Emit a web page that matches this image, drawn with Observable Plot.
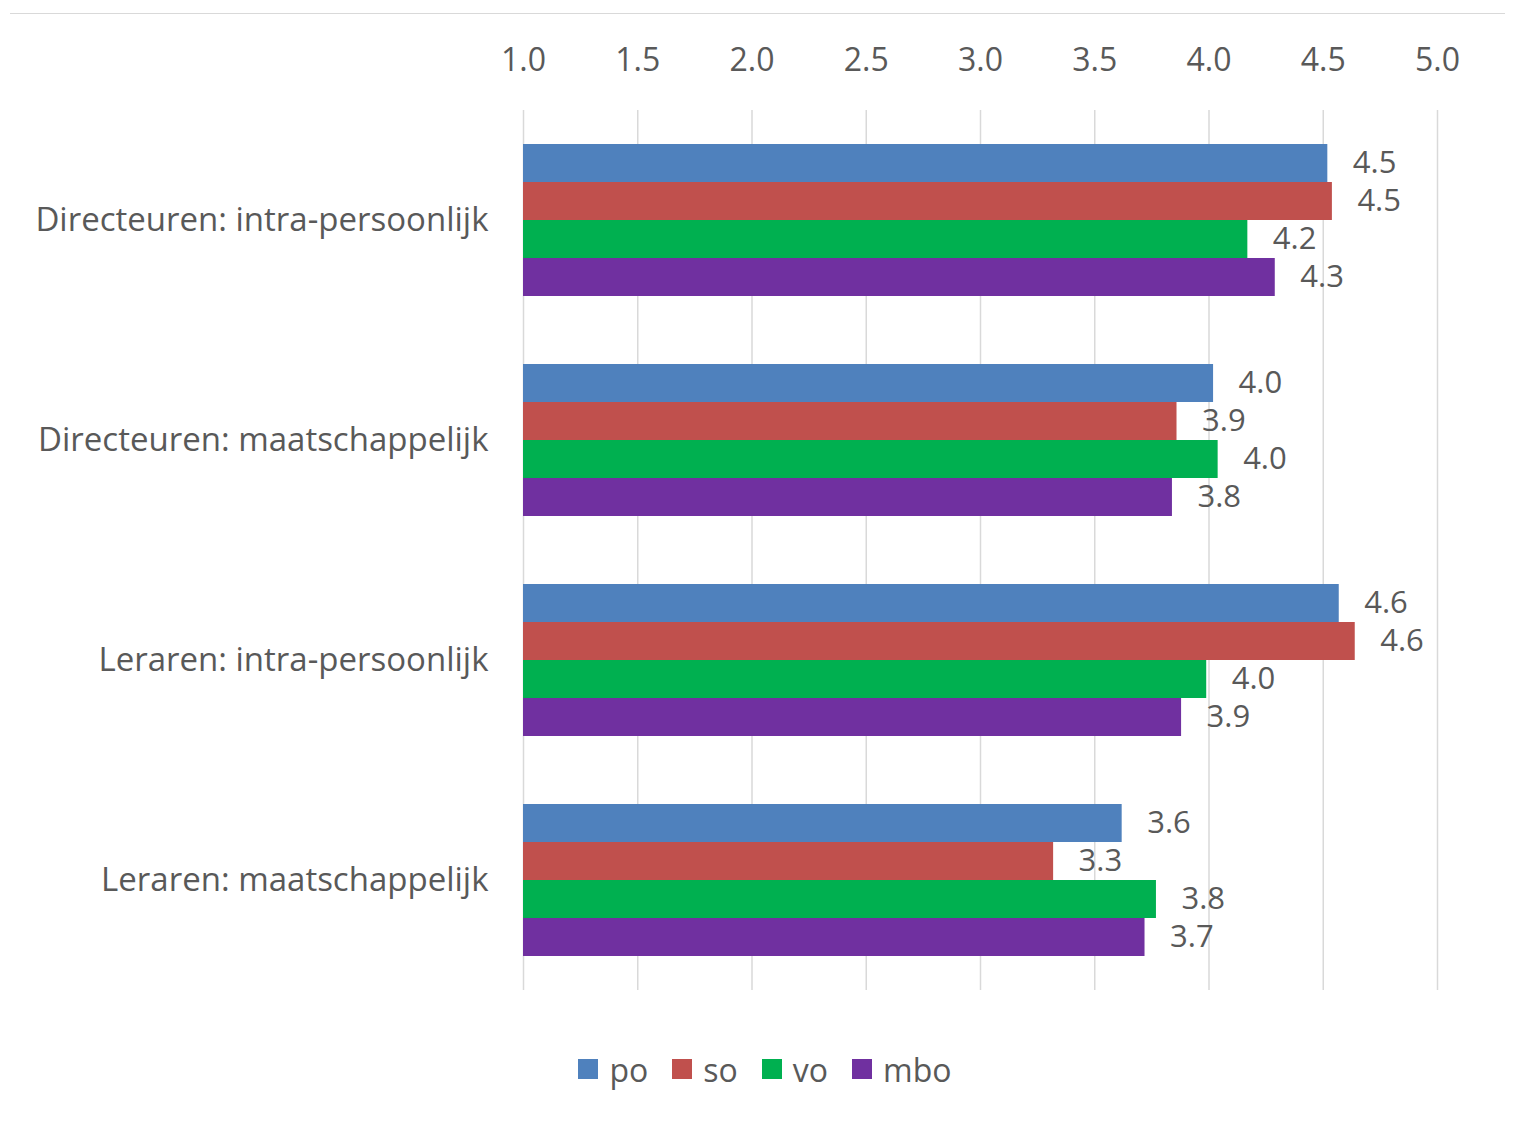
<!DOCTYPE html>
<html>
<head>
<meta charset="utf-8">
<script src="https://cdn.jsdelivr.net/npm/d3@7"></script>
<script src="https://cdn.jsdelivr.net/npm/@observablehq/plot@0.6"></script>
<style>
  body { margin: 0; background: #fff; font-family: "Open Sans", sans-serif; }
  #wrap { position: relative; width: 1517px; height: 1143px; overflow: hidden; }
  #topline { position: absolute; left: 10px; top: 13px; width: 1495px; border-top: 1.5px solid #d9d9d9; }
  #chart { position: absolute; left: 0; top: 0; }
  #chart g[aria-label="fy-axis tick label"] text { font-size: 33px; }
  #legend { position: absolute; left: 0; top: 1048px; width: 1530px; display: flex; justify-content: center; align-items: center; height: 42px; font-size: 32px; color: #595959; }
  .item { display: flex; align-items: center; margin: 0 12px; }
  .sw { width: 20px; height: 20px; margin-right: 11px; }
</style>
</head>
<body>
<div id="wrap">
  <div id="topline"></div>
  <div id="chart"></div>
  <div id="legend"></div>
</div>
<script>
const categories = [
  "Directeuren: intra-persoonlijk",
  "Directeuren: maatschappelijk",
  "Leraren: intra-persoonlijk",
  "Leraren: maatschappelijk"
];
const series = ["po", "so", "vo", "mbo"];
const colors = ["#4F81BD", "#C0504D", "#00B050", "#7030A0"];
const po  = [4.52, 4.02, 4.57, 3.62];
const so  = [4.54, 3.86, 4.64, 3.32];
const vo  = [4.17, 4.04, 3.99, 3.77];
const mbo = [4.29, 3.84, 3.88, 3.72];
const xTicks = [1.0, 1.5, 2.0, 2.5, 3.0, 3.5, 4.0, 4.5, 5.0];

const seriesValues = {po, so, vo, mbo};
const data = [];
categories.forEach((c, i) => {
  series.forEach(s => data.push({category: c, series: s, value: seriesValues[s][i]}));
});

const textColor = "#595959";
const chart = Plot.plot({
  width: 1517,
  height: 1050,
  marginTop: 110,
  marginBottom: 60,
  marginLeft: 523,
  marginRight: 80,
  style: {fontFamily: "'Open Sans', sans-serif", fontSize: "32px", color: textColor, background: "transparent"},
  x: {domain: [xTicks[0], xTicks[xTicks.length - 1]], axis: "top", ticks: xTicks, tickFormat: d3.format(".1f"), tickSize: 0, tickPadding: 40, label: null},
  y: {domain: series, axis: null, paddingInner: 0, paddingOuter: 0.895, round: false},
  fy: {domain: categories, axis: "left", padding: 0, tickSize: 0, tickPadding: 35, label: null},
  color: {domain: series, range: colors},
  marks: [
    Plot.ruleX(xTicks, {stroke: "#d9d9d9", strokeWidth: 1.5}),
    Plot.barX(data, {fy: "category", y: "series", x1: xTicks[0], x2: "value", fill: "series"}),
    Plot.text(data, {fy: "category", y: "series", x: "value", text: d => d.value.toFixed(1), dx: 25, textAnchor: "start", fill: textColor, fontSize: 31})
  ]
});
document.getElementById("chart").appendChild(chart);

const legend = document.getElementById("legend");
series.forEach((s, i) => {
  const item = document.createElement("div");
  item.className = "item";
  const sw = document.createElement("div");
  sw.className = "sw";
  sw.style.background = colors[i];
  const lab = document.createElement("span");
  lab.textContent = s;
  item.appendChild(sw);
  item.appendChild(lab);
  legend.appendChild(item);
});
</script>
</body>
</html>
